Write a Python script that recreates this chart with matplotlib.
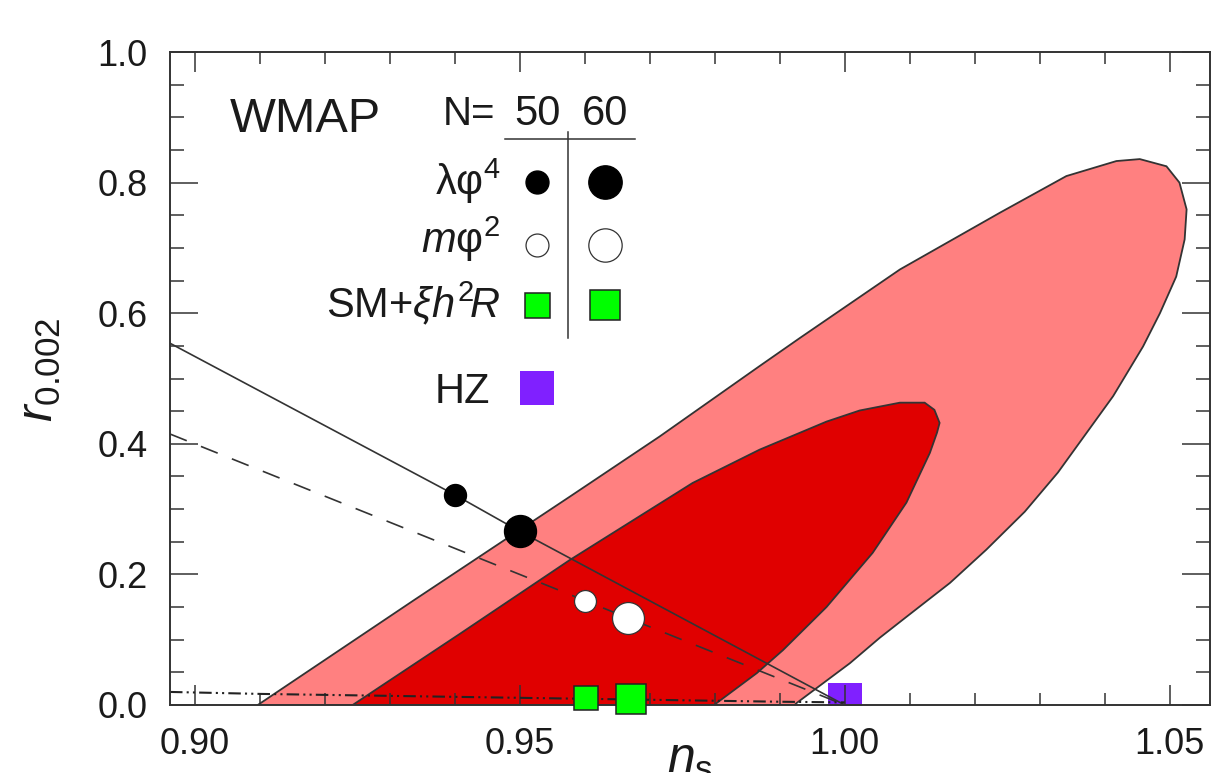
import matplotlib
matplotlib.use("Agg")
import matplotlib.pyplot as plt
from matplotlib.ticker import MultipleLocator, FixedLocator

# WMAP allowed regions, clipped at r = 0
outer_ns = [0.9097, 0.9338, 0.9577, 0.9715, 0.9869, 0.9931, 1.0085, 1.0239, 1.0341,
            1.0418, 1.0454, 1.0495, 1.0515, 1.0526, 1.0523, 1.0510, 1.0485, 1.0459,
            1.0413, 1.0328, 1.0277, 1.0218, 1.0162, 1.0095, 1.0054, 1.0008, 0.9926,
            0.9923]
outer_r = [0.0, 0.161, 0.319, 0.411, 0.519, 0.562, 0.667, 0.754, 0.810,
           0.833, 0.836, 0.825, 0.800, 0.759, 0.713, 0.656, 0.600, 0.549,
           0.473, 0.356, 0.296, 0.238, 0.187, 0.135, 0.103, 0.064, 0.003,
           0.0]

inner_ns = [0.9243, 0.9408, 0.9577, 0.9766, 0.9869, 0.9972, 1.0023, 1.0085, 1.0123,
            1.0138, 1.0146, 1.0142, 1.0131, 1.0095, 1.0043, 0.9972, 0.9905, 0.9865,
            0.9803, 0.9800]
inner_r = [0.0, 0.109, 0.222, 0.340, 0.391, 0.434, 0.451, 0.463, 0.463,
           0.452, 0.432, 0.417, 0.386, 0.310, 0.233, 0.150, 0.084, 0.049,
           0.003, 0.0]

# model lines
lam_line_ns = [0.8962, 0.940, 0.950, 1.000]
lam_line_r = [0.554, 0.322, 0.266, 0.0]
m2_line_ns = [0.8962, 0.960, 0.9667, 1.000]
m2_line_r = [0.415, 0.160, 0.133, 0.0]
higgs_line_ns = [0.8962, 0.910, 0.930, 0.950, 0.970, 0.990, 1.000]
higgs_line_r = [0.020, 0.017, 0.014, 0.011, 0.008, 0.005, 0.004]

# model points, N = 50 and N = 60
lam_ns = [0.940, 0.950]
lam_r = [0.322, 0.266]
m2_ns = [0.960, 0.9667]
m2_r = [0.160, 0.133]
sm_ns = [0.9602, 0.9672]
sm_r = [0.010, 0.009]
hz_ns = [1.000]
hz_r = [0.008]

x_ticks = [0.90, 0.95, 1.00, 1.05]
x_labels = ["0.90", "0.95", "1.00", "1.05"]
y_ticks = [0.0, 0.2, 0.4, 0.6, 0.8, 1.0]
y_labels = ["0.0", "0.2", "0.4", "0.6", "0.8", "1.0"]
n_values = ["50", "60"]

plt.rcParams["font.family"] = ["Liberation Sans", "DejaVu Sans"]
plt.rcParams["mathtext.fontset"] = "custom"
plt.rcParams["mathtext.rm"] = "Liberation Sans"
plt.rcParams["mathtext.it"] = "Liberation Sans:italic"
plt.rcParams["mathtext.bf"] = "Liberation Sans:bold"
plt.rcParams["lines.scale_dashes"] = False

W, H = 1215, 773
fig = plt.figure(figsize=(W / 100, H / 100), dpi=100)
ax = fig.add_axes([170 / W, (H - 705) / H, 1040 / W, 653 / H])
ax.set_axisbelow(False)

edge = "#333333"
light_red = "#ff8080"
dark_red = "#e00000"
green = "#00ff00"
purple = "#8020ff"

ax.fill(outer_ns, outer_r, facecolor=light_red, edgecolor=edge, lw=1.3, zorder=1)
ax.fill(inner_ns, inner_r, facecolor=dark_red, edgecolor=edge, lw=1.3, zorder=2)
ax.plot(hz_ns, hz_r, "s", ms=24.5, mfc=purple, mec=purple, mew=0, zorder=2.2)

ax.plot(lam_line_ns, lam_line_r, color=edge, lw=1.2, zorder=3)
ax.plot(m2_line_ns, m2_line_r, color=edge, lw=1.2, dashes=(13, 11), zorder=3)
ax.plot(higgs_line_ns, higgs_line_r, color="#222222", lw=1.5,
        dashes=(9, 3, 1.5, 3, 1.5, 3), zorder=3)

small, big = 15.8, 23
ax.plot(lam_ns[0], lam_r[0], "o", ms=small, mfc="black", mec="black", zorder=5)
ax.plot(lam_ns[1], lam_r[1], "o", ms=big, mfc="black", mec="black", zorder=5)
ax.plot(m2_ns[0], m2_r[0], "o", ms=small, mfc="white", mec=edge, mew=0.9, zorder=5)
ax.plot(m2_ns[1], m2_r[1], "o", ms=big, mfc="white", mec=edge, mew=0.9, zorder=5)
ax.plot(sm_ns[0], sm_r[0], "s", ms=17, mfc=green, mec="#222222", mew=1.1,
        zorder=6, clip_on=False)
ax.plot(sm_ns[1], sm_r[1], "s", ms=21, mfc=green, mec="#222222", mew=1.1,
        zorder=6, clip_on=False)

ax.set_xlim(0.8962, 1.0562)
ax.set_ylim(0, 1.0)
ax.xaxis.set_major_locator(FixedLocator(x_ticks))
ax.set_xticklabels(x_labels)
ax.yaxis.set_major_locator(FixedLocator(y_ticks))
ax.set_yticklabels(y_labels)
ax.xaxis.set_minor_locator(MultipleLocator(0.01))
ax.yaxis.set_minor_locator(MultipleLocator(0.05))
ax.tick_params(which="both", direction="in", top=True, right=True, color=edge,
               width=1.1, labelsize=26, labelcolor="#1a1a1a", pad=16)
ax.tick_params(axis="x", which="major", length=14.4)
ax.tick_params(axis="x", which="minor", length=8.6)
ax.tick_params(axis="y", which="major", length=20)
ax.tick_params(axis="y", which="minor", length=10)
for s in ax.spines.values():
    s.set_linewidth(1.4)
    s.set_color(edge)
    s.set_zorder(4.5)

ax.set_xlabel(r"$n_{\mathrm{s}}$", fontsize=36, color="#1a1a1a")
ax.xaxis.label.set_va("baseline")
ax.xaxis.set_label_coords(0.5, -0.104)
ax.set_ylabel(r"$r_{0.002}$", fontsize=36, color="#1a1a1a")
ax.yaxis.label.set_va("baseline")
ax.yaxis.set_label_coords(-0.1125, 0.513)

# key drawn inside the frame
tr = ax.transAxes
txt = dict(transform=tr, color="#1a1a1a", va="baseline")
ax.text(0.0577, 0.8775, "WMAP", fontsize=35, ha="left", **txt)
ax.text(0.3125, 0.8882, "N=", fontsize=29, ha="right", **txt)
col_x = [0.3529, 0.4183]
for cx, nv in zip(col_x, n_values):
    ax.text(cx, 0.8882, nv, fontsize=30, ha="center", **txt)
ax.plot([0.3221, 0.4471], [0.8668, 0.8668], color=edge, lw=1.1, transform=tr,
        clip_on=False)
ax.plot([0.3827, 0.3827], [0.8775, 0.5620], color=edge, lw=1.1, transform=tr,
        clip_on=False)

ax.text(0.3173, 0.7810, r"$\mathrm{\lambda\varphi}^{4}$", fontsize=30, ha="right", **txt)
ax.text(0.3173, 0.6922, r"$m\mathrm{\varphi}^{2}$", fontsize=30, ha="right", **txt)
ax.text(0.3173, 0.5942, r"SM+$\xi h^{2}\!R$", fontsize=30, ha="right", **txt)
ax.text(0.3077, 0.4625, "HZ", fontsize=30, ha="right", **txt)

row_y = [0.8009, 0.7044, 0.6126]
key = dict(transform=tr, clip_on=False, zorder=6)
ax.plot(col_x[0], row_y[0], "o", ms=16.5, mfc="black", mec="black", **key)
ax.plot(col_x[1], row_y[0], "o", ms=24, mfc="black", mec="black", **key)
ax.plot(col_x[0], row_y[1], "o", ms=16.5, mfc="white", mec=edge, mew=0.9, **key)
ax.plot(col_x[1], row_y[1], "o", ms=24, mfc="white", mec=edge, mew=0.9, **key)
ax.plot(col_x[0], row_y[2], "s", ms=18, mfc=green, mec="#222222", mew=1.1, **key)
ax.plot(col_x[1], row_y[2], "s", ms=21.5, mfc=green, mec="#222222", mew=1.1, **key)
ax.plot(col_x[0], 0.4855, "s", ms=25, mfc=purple, mec=purple, mew=0, **key)

fig.savefig("out.png", dpi=100)
